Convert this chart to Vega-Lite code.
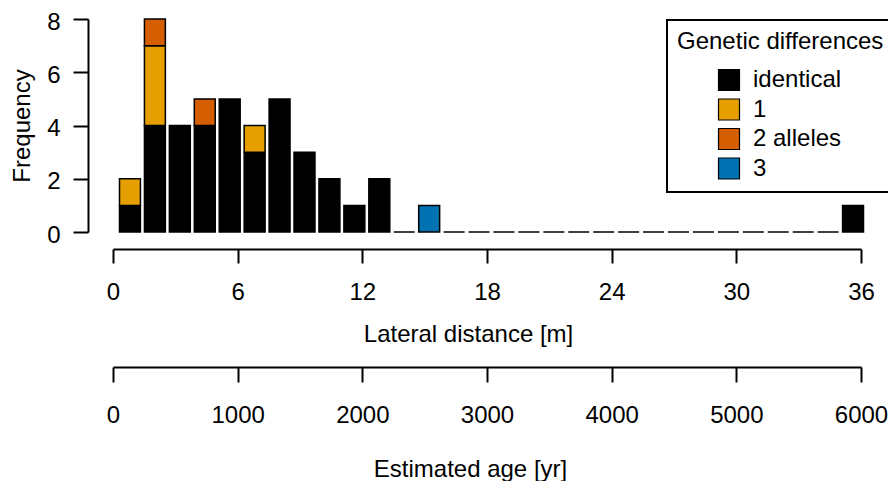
{
  "$schema": "https://vega.github.io/schema/vega-lite/v6.json",
  "width": 748,
  "height": 213,
  "autosize": {"type": "none"},
  "padding": {"left": 113, "top": 19, "right": 27, "bottom": 249},
  "background": "white",
  "config": {
    "view": {"stroke": null},
    "font": "Liberation Sans",
    "legend": {"strokeWidth": 2}
  },
  "data": {
    "values": [
      {"bin_start": 0, "bin_end": 1.2, "differences": "identical", "level": 0, "count": 1},
      {"bin_start": 0, "bin_end": 1.2, "differences": "1", "level": 1, "count": 1},
      {"bin_start": 1.2, "bin_end": 2.4, "differences": "identical", "level": 0, "count": 4},
      {"bin_start": 1.2, "bin_end": 2.4, "differences": "1", "level": 1, "count": 3},
      {"bin_start": 1.2, "bin_end": 2.4, "differences": "2 alleles", "level": 2, "count": 1},
      {"bin_start": 2.4, "bin_end": 3.6, "differences": "identical", "level": 0, "count": 4},
      {"bin_start": 3.6, "bin_end": 4.8, "differences": "identical", "level": 0, "count": 4},
      {"bin_start": 3.6, "bin_end": 4.8, "differences": "2 alleles", "level": 2, "count": 1},
      {"bin_start": 4.8, "bin_end": 6.0, "differences": "identical", "level": 0, "count": 5},
      {"bin_start": 6.0, "bin_end": 7.2, "differences": "identical", "level": 0, "count": 3},
      {"bin_start": 6.0, "bin_end": 7.2, "differences": "1", "level": 1, "count": 1},
      {"bin_start": 7.2, "bin_end": 8.4, "differences": "identical", "level": 0, "count": 5},
      {"bin_start": 8.4, "bin_end": 9.6, "differences": "identical", "level": 0, "count": 3},
      {"bin_start": 9.6, "bin_end": 10.8, "differences": "identical", "level": 0, "count": 2},
      {"bin_start": 10.8, "bin_end": 12.0, "differences": "identical", "level": 0, "count": 1},
      {"bin_start": 12.0, "bin_end": 13.2, "differences": "identical", "level": 0, "count": 2},
      {"bin_start": 13.2, "bin_end": 14.4, "differences": "identical", "level": 0, "count": 0},
      {"bin_start": 14.4, "bin_end": 15.6, "differences": "3", "level": 3, "count": 1},
      {"bin_start": 15.6, "bin_end": 16.8, "differences": "identical", "level": 0, "count": 0},
      {"bin_start": 16.8, "bin_end": 18.0, "differences": "identical", "level": 0, "count": 0},
      {"bin_start": 18.0, "bin_end": 19.2, "differences": "identical", "level": 0, "count": 0},
      {"bin_start": 19.2, "bin_end": 20.4, "differences": "identical", "level": 0, "count": 0},
      {"bin_start": 20.4, "bin_end": 21.6, "differences": "identical", "level": 0, "count": 0},
      {"bin_start": 21.6, "bin_end": 22.8, "differences": "identical", "level": 0, "count": 0},
      {"bin_start": 22.8, "bin_end": 24.0, "differences": "identical", "level": 0, "count": 0},
      {"bin_start": 24.0, "bin_end": 25.2, "differences": "identical", "level": 0, "count": 0},
      {"bin_start": 25.2, "bin_end": 26.4, "differences": "identical", "level": 0, "count": 0},
      {"bin_start": 26.4, "bin_end": 27.6, "differences": "identical", "level": 0, "count": 0},
      {"bin_start": 27.6, "bin_end": 28.8, "differences": "identical", "level": 0, "count": 0},
      {"bin_start": 28.8, "bin_end": 30.0, "differences": "identical", "level": 0, "count": 0},
      {"bin_start": 30.0, "bin_end": 31.2, "differences": "identical", "level": 0, "count": 0},
      {"bin_start": 31.2, "bin_end": 32.4, "differences": "identical", "level": 0, "count": 0},
      {"bin_start": 32.4, "bin_end": 33.6, "differences": "identical", "level": 0, "count": 0},
      {"bin_start": 33.6, "bin_end": 34.8, "differences": "identical", "level": 0, "count": 0},
      {"bin_start": 34.8, "bin_end": 36.0, "differences": "identical", "level": 0, "count": 1}
    ]
  },
  "layer": [
    {
      "mark": {"type": "bar", "stroke": "black", "strokeWidth": 1.5, "binSpacing": 4, "xOffset": 4},
      "encoding": {
        "x": {
          "field": "bin_start",
          "type": "quantitative",
          "bin": {"binned": true},
          "scale": {"domain": [0, 36], "nice": false, "zero": true},
          "axis": {
            "orient": "bottom",
            "offset": 17,
            "values": [0, 6, 12, 18, 24, 30, 36],
            "grid": false,
            "domainColor": "black",
            "domainWidth": 2,
            "tickColor": "black",
            "tickWidth": 2,
            "tickSize": 14,
            "labelFontSize": 24,
            "labelColor": "black",
            "labelPadding": 17,
            "labelFlush": false,
            "labelOverlap": false,
            "title": "Lateral distance [m]",
            "titleFontSize": 24,
            "titleFontWeight": "normal",
            "titleColor": "black",
            "titleX": 355,
            "titleAlign": "center",
            "titlePadding": 18
          }
        },
        "x2": {"field": "bin_end"},
        "y": {
          "field": "count",
          "type": "quantitative",
          "stack": "zero",
          "scale": {"domain": [0, 8], "nice": false},
          "axis": {
            "orient": "left",
            "offset": 25,
            "values": [0, 2, 4, 6, 8],
            "grid": false,
            "domainColor": "black",
            "domainWidth": 2,
            "tickColor": "black",
            "tickWidth": 2,
            "tickSize": 15,
            "labelFontSize": 24,
            "labelColor": "black",
            "labelPadding": 13,
            "labelOffset": 3,
            "labelFlush": false,
            "labelOverlap": false,
            "title": "Frequency",
            "titleFontSize": 24,
            "titleFontWeight": "normal",
            "titleColor": "black",
            "titlePadding": 12
          }
        },
        "color": {
          "field": "differences",
          "type": "nominal",
          "scale": {
            "domain": ["identical", "1", "2 alleles", "3"],
            "range": ["#000000", "#E69F00", "#D55E00", "#0072B2"]
          },
          "legend": {
            "orient": "none",
            "legendX": 554,
            "legendY": 1,
            "title": "Genetic differences",
            "titleFontSize": 24,
            "titleFontWeight": "normal",
            "titleColor": "black",
            "titleLimit": 0,
            "titlePadding": 14,
            "labelFontSize": 24,
            "labelColor": "black",
            "labelOffset": 12,
            "labelLimit": 0,
            "symbolType": "square",
            "symbolSize": 441,
            "symbolStrokeColor": "black",
            "symbolStrokeWidth": 1.2,
            "symbolOpacity": 1,
            "symbolOffset": 40,
            "rowPadding": 3.5,
            "padding": 10,
            "strokeColor": "black",
            "fillColor": "white",
            "cornerRadius": 0
          }
        },
        "order": {"field": "level", "type": "quantitative", "sort": "ascending"}
      }
    },
    {
      "mark": {"type": "rule", "opacity": 0},
      "encoding": {
        "x": {
          "field": "bin_start",
          "type": "quantitative",
          "scale": {"domain": [0, 36], "nice": false, "zero": true},
          "axis": {
            "orient": "bottom",
            "offset": 135,
            "values": [0, 6, 12, 18, 24, 30, 36],
            "labelExpr": "format(datum.value * 1000 / 6, 'd')",
            "grid": false,
            "domainColor": "black",
            "domainWidth": 2,
            "tickColor": "black",
            "tickWidth": 2,
            "tickSize": 15,
            "labelFontSize": 24,
            "labelColor": "black",
            "labelPadding": 21,
            "labelFlush": false,
            "labelOverlap": false,
            "title": "Estimated age [yr]",
            "titleFontSize": 24,
            "titleFontWeight": "normal",
            "titleColor": "black",
            "titleX": 357,
            "titleAlign": "center",
            "titlePadding": 30
          }
        }
      }
    }
  ],
  "resolve": {"axis": {"x": "independent"}}
}
